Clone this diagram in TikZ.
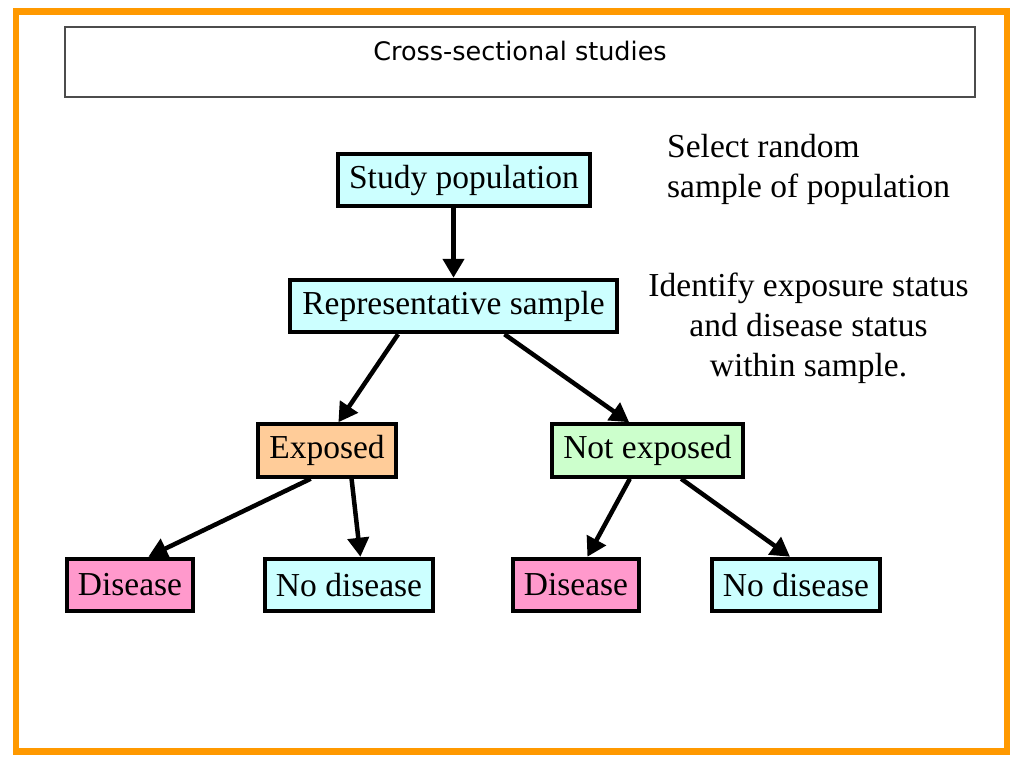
\documentclass[tikz,border=0pt]{standalone}
\usepackage{fontspec}
\setmainfont{Liberation Serif}
\newfontfamily\titlefont{DejaVu Sans}
\usetikzlibrary{arrows.meta}
\definecolor{framebar}{RGB}{255,153,0}
\definecolor{popcyan}{RGB}{204,255,255}
\definecolor{exppeach}{RGB}{255,204,153}
\definecolor{nexpgreen}{RGB}{204,255,204}
\definecolor{dispink}{RGB}{255,153,204}

\begin{document}
\begin{tikzpicture}[x=1pt,y=-1pt,
every node/.style={font=\fontsize{33.5}{40}\selectfont},
box/.style={draw=black,line width=4pt,inner sep=0pt,minimum height=52.5pt},
note/.style={inner sep=0pt},
link/.style={line width=4.5pt,-{Triangle[length=19pt,width=21pt]}}]
\useasboundingbox (0,0) rectangle (1027,764);
\draw[framebar,line width=6.5pt] (16,11.5) rectangle (1007,751.5);
\draw[black!70,line width=1.5pt] (65,27) rectangle (975,97);
\node[anchor=base,inner sep=0pt,font=\titlefont\fontsize{25.5}{30}\selectfont] (title) at (520,60) {Cross-sectional studies};

\node[box,fill=popcyan,minimum width=252pt] (study) at (464,180) {Study population};
\node[box,fill=popcyan,minimum width=327pt] (rep) at (453.5,306) {Representative sample};
\node[box,fill=exppeach,minimum width=138pt] (exp) at (327,450.5) {Exposed};
\node[box,fill=nexpgreen,minimum width=191pt] (nexp) at (647.5,450.5) {Not exposed};
\node[box,fill=dispink,minimum width=126pt] (dis1) at (130,585) {Disease};
\node[box,fill=popcyan,minimum width=168pt] (nodis1) at (349,585) {No disease};
\node[box,fill=dispink,minimum width=126pt] (dis2) at (576,585) {Disease};
\node[box,fill=popcyan,minimum width=168pt] (nodis2) at (796,585) {No disease};

\node[note,anchor=north west,align=left] (selnote) at (667,134.5) {Select random\\sample of population};
\node[note,anchor=north,align=center] (idnote) at (808.5,272.5) {Identify exposure status\\and disease status\\within sample.};

\draw[link] (study.south -| rep.north) -- (rep.north);
\draw[link] (rep.207.6) -- (exp.68.9);
\draw[link] (rep.-29) -- (nexp.123);
\draw[link] (exp.240.7) -- (dis1.57.3);
\draw[link] (exp.-49.9) -- (nodis1.68.6);
\draw[link] (nexp.238.4) -- (dis2.68.6);
\draw[link] (nexp.-40.4) -- (nodis2.102.1);
\end{tikzpicture}
\end{document}
